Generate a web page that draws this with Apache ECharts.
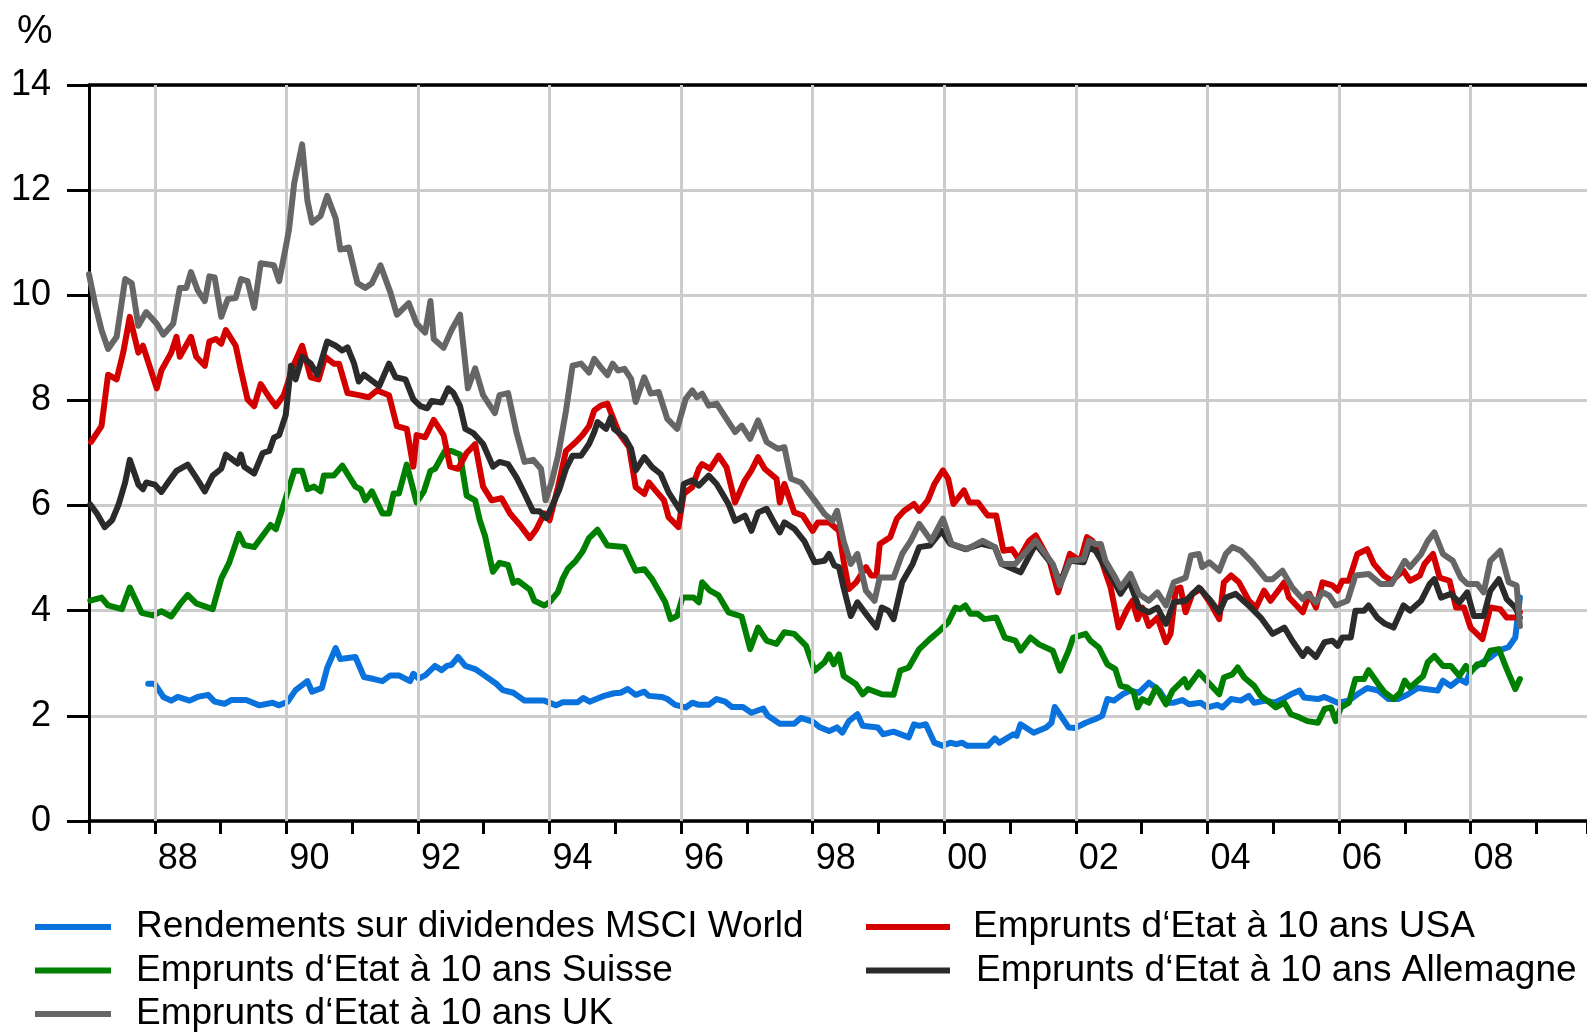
<!DOCTYPE html>
<html>
<head>
<meta charset="utf-8">
<script src="https://cdn.jsdelivr.net/npm/echarts@6/dist/echarts.min.js"></script>
<style>
html,body{margin:0;padding:0;background:#fff;}
#chart{width:1587px;height:1032px;}
</style>
</head>
<body>
<div id="chart"></div>
<script>
// ---- data (decimal year, percent) ----
const xLabelYears = [1988, 1990, 1992, 1994, 1996, 1998, 2000, 2002, 2004, 2006, 2008];
const yTicks = [0, 2, 4, 6, 8, 10, 12, 14];
const seriesNames = [
  'Rendements sur dividendes MSCI World',
  'Emprunts d\u2018Etat à 10 ans USA',
  'Emprunts d\u2018Etat à 10 ans Suisse',
  'Emprunts d\u2018Etat à 10 ans Allemagne',
  'Emprunts d\u2018Etat à 10 ans UK'
];

const msciWorld = [[1987.90,2.61],[1988.00,2.61],[1988.13,2.36],[1988.25,2.29],[1988.35,2.36],[1988.53,2.29],[1988.65,2.36],[1988.81,2.40],[1988.91,2.27],[1989.06,2.23],[1989.16,2.30],[1989.39,2.30],[1989.59,2.20],[1989.79,2.25],[1989.89,2.20],[1990.02,2.27],[1990.14,2.49],[1990.32,2.66],[1990.39,2.46],[1990.54,2.53],[1990.62,2.91],[1990.75,3.29],[1990.82,3.08],[1991.05,3.12],[1991.18,2.74],[1991.33,2.70],[1991.46,2.66],[1991.58,2.77],[1991.71,2.77],[1991.88,2.66],[1991.93,2.80],[1992.01,2.71],[1992.11,2.77],[1992.26,2.95],[1992.36,2.87],[1992.44,2.95],[1992.51,2.97],[1992.61,3.12],[1992.72,2.95],[1992.87,2.89],[1993.02,2.76],[1993.19,2.61],[1993.29,2.49],[1993.45,2.44],[1993.62,2.29],[1993.92,2.29],[1994.10,2.20],[1994.20,2.26],[1994.43,2.26],[1994.51,2.34],[1994.61,2.27],[1994.71,2.32],[1994.83,2.38],[1994.98,2.43],[1995.08,2.44],[1995.19,2.51],[1995.31,2.40],[1995.44,2.46],[1995.51,2.38],[1995.71,2.36],[1995.79,2.32],[1995.91,2.21],[1996.07,2.16],[1996.17,2.25],[1996.27,2.21],[1996.42,2.21],[1996.54,2.32],[1996.67,2.27],[1996.77,2.17],[1996.94,2.17],[1997.07,2.06],[1997.25,2.14],[1997.32,2.00],[1997.50,1.85],[1997.72,1.85],[1997.82,1.96],[1998.00,1.89],[1998.10,1.79],[1998.25,1.71],[1998.37,1.78],[1998.45,1.68],[1998.55,1.90],[1998.68,2.03],[1998.76,1.81],[1998.99,1.78],[1999.07,1.65],[1999.23,1.70],[1999.46,1.59],[1999.54,1.84],[1999.62,1.81],[1999.72,1.84],[1999.85,1.49],[1999.98,1.43],[2000.09,1.49],[2000.19,1.46],[2000.27,1.49],[2000.35,1.43],[2000.66,1.43],[2000.77,1.57],[2000.84,1.49],[2001.05,1.65],[2001.10,1.62],[2001.16,1.84],[2001.36,1.68],[2001.55,1.78],[2001.63,1.87],[2001.68,2.17],[2001.89,1.78],[2001.99,1.77],[2002.15,1.87],[2002.30,1.94],[2002.40,2.00],[2002.48,2.32],[2002.58,2.29],[2002.71,2.41],[2002.83,2.48],[2002.96,2.44],[2003.11,2.63],[2003.27,2.48],[2003.39,2.25],[2003.49,2.25],[2003.62,2.30],[2003.72,2.22],[2003.90,2.25],[2004.00,2.16],[2004.15,2.21],[2004.23,2.16],[2004.36,2.32],[2004.51,2.29],[2004.63,2.38],[2004.71,2.25],[2004.89,2.29],[2005.02,2.25],[2005.14,2.32],[2005.27,2.41],[2005.40,2.48],[2005.47,2.35],[2005.68,2.32],[2005.78,2.36],[2005.98,2.25],[2006.15,2.29],[2006.28,2.41],[2006.43,2.53],[2006.60,2.48],[2006.75,2.32],[2006.90,2.32],[2007.05,2.41],[2007.20,2.53],[2007.50,2.48],[2007.58,2.67],[2007.70,2.57],[2007.83,2.70],[2007.93,2.63],[2008.00,2.86],[2008.18,3.02],[2008.30,3.11],[2008.43,3.24],[2008.58,3.31],[2008.68,3.49],[2008.71,3.81],[2008.75,4.25]];

const bondsUSA = [[1987.03,7.21],[1987.19,7.51],[1987.29,8.49],[1987.42,8.40],[1987.52,8.91],[1987.62,9.59],[1987.75,8.91],[1987.82,9.04],[1988.03,8.23],[1988.10,8.57],[1988.25,8.91],[1988.33,9.21],[1988.38,8.83],[1988.55,9.21],[1988.63,8.83],[1988.76,8.66],[1988.83,9.12],[1988.93,9.17],[1989.01,9.08],[1989.08,9.34],[1989.23,9.04],[1989.31,8.57],[1989.41,8.02],[1989.51,7.89],[1989.61,8.31],[1989.74,8.06],[1989.84,7.89],[1989.96,8.10],[1990.12,8.70],[1990.24,9.04],[1990.37,8.44],[1990.49,8.40],[1990.59,8.83],[1990.72,8.70],[1990.80,8.70],[1990.93,8.14],[1991.10,8.10],[1991.25,8.06],[1991.38,8.19],[1991.56,8.10],[1991.68,7.51],[1991.83,7.46],[1991.93,6.74],[1991.98,7.34],[1992.11,7.30],[1992.24,7.63],[1992.39,7.34],[1992.49,6.74],[1992.61,6.70],[1992.74,7.00],[1992.87,7.17],[1992.99,6.36],[1993.12,6.10],[1993.27,6.14],[1993.40,5.85],[1993.55,5.63],[1993.70,5.38],[1993.80,5.55],[1993.92,5.85],[1994.00,5.72],[1994.13,6.36],[1994.25,7.04],[1994.40,7.21],[1994.50,7.34],[1994.60,7.51],[1994.68,7.81],[1994.78,7.90],[1994.88,7.94],[1995.06,7.37],[1995.21,7.11],[1995.31,6.35],[1995.44,6.22],[1995.51,6.44],[1995.61,6.29],[1995.74,6.10],[1995.81,5.78],[1995.96,5.59],[1996.04,6.22],[1996.17,6.35],[1996.27,6.70],[1996.32,6.79],[1996.44,6.70],[1996.57,6.95],[1996.69,6.73],[1996.82,6.06],[1996.97,6.48],[1997.07,6.67],[1997.17,6.92],[1997.27,6.70],[1997.45,6.51],[1997.50,6.06],[1997.57,6.41],[1997.72,5.87],[1997.85,5.81],[1998.00,5.52],[1998.08,5.68],[1998.25,5.68],[1998.40,5.52],[1998.47,4.95],[1998.55,4.41],[1998.66,4.54],[1998.81,4.83],[1998.89,4.67],[1998.97,4.67],[1999.02,5.27],[1999.18,5.40],[1999.28,5.75],[1999.39,5.90],[1999.54,6.03],[1999.62,5.90],[1999.75,6.10],[1999.85,6.41],[1999.98,6.67],[2000.06,6.51],[2000.14,6.03],[2000.30,6.29],[2000.38,6.06],[2000.51,6.06],[2000.66,5.81],[2000.79,5.81],[2000.90,5.14],[2001.03,5.17],[2001.13,4.98],[2001.29,5.33],[2001.39,5.43],[2001.60,4.95],[2001.73,4.35],[2001.83,4.76],[2001.91,5.08],[2002.07,4.95],[2002.17,5.40],[2002.25,5.33],[2002.35,5.11],[2002.45,4.73],[2002.53,4.44],[2002.65,3.68],[2002.78,4.03],[2002.86,4.19],[2002.94,3.84],[2003.01,4.06],[2003.11,3.71],[2003.24,3.87],[2003.37,3.40],[2003.44,3.56],[2003.52,4.41],[2003.59,4.44],[2003.67,3.97],[2003.77,4.32],[2003.90,4.41],[2004.05,4.13],[2004.18,3.84],[2004.25,4.54],[2004.36,4.67],[2004.48,4.54],[2004.63,4.19],[2004.74,4.06],[2004.86,4.38],[2004.96,4.19],[2005.17,4.54],[2005.24,4.25],[2005.45,3.97],[2005.55,4.32],[2005.65,4.06],[2005.75,4.54],[2005.90,4.48],[2005.98,4.38],[2006.05,4.57],[2006.15,4.57],[2006.28,5.08],[2006.43,5.17],[2006.53,4.89],[2006.68,4.67],[2006.80,4.57],[2006.98,4.76],[2007.08,4.57],[2007.23,4.67],[2007.30,4.89],[2007.43,5.08],[2007.53,4.63],[2007.68,4.57],[2007.78,4.06],[2007.90,4.06],[2008.00,3.68],[2008.18,3.46],[2008.30,4.06],[2008.45,4.03],[2008.55,3.87],[2008.70,3.87],[2008.75,3.97]];

const bondsSuisse = [[1987.02,4.19],[1987.19,4.25],[1987.29,4.10],[1987.50,4.03],[1987.62,4.44],[1987.80,3.96],[1987.97,3.91],[1988.10,3.99],[1988.25,3.89],[1988.38,4.12],[1988.50,4.30],[1988.63,4.14],[1988.88,4.03],[1989.01,4.61],[1989.13,4.91],[1989.28,5.46],[1989.36,5.25],[1989.51,5.21],[1989.76,5.63],[1989.84,5.55],[1989.99,6.14],[1990.12,6.66],[1990.24,6.66],[1990.32,6.31],[1990.42,6.36],[1990.52,6.27],[1990.57,6.57],[1990.72,6.57],[1990.85,6.76],[1991.05,6.36],[1991.13,6.31],[1991.20,6.10],[1991.30,6.27],[1991.46,5.85],[1991.56,5.85],[1991.63,6.23],[1991.71,6.23],[1991.83,6.78],[1991.98,6.06],[1992.09,6.27],[1992.19,6.66],[1992.26,6.70],[1992.41,7.04],[1992.51,7.04],[1992.64,6.97],[1992.74,6.19],[1992.87,6.10],[1992.94,5.72],[1993.02,5.42],[1993.14,4.74],[1993.24,4.91],[1993.37,4.87],[1993.45,4.53],[1993.52,4.57],[1993.70,4.40],[1993.77,4.19],[1993.92,4.10],[1994.00,4.16],[1994.13,4.36],[1994.20,4.61],[1994.28,4.80],[1994.40,4.95],[1994.50,5.12],[1994.60,5.38],[1994.73,5.54],[1994.88,5.24],[1995.14,5.21],[1995.31,4.76],[1995.44,4.79],[1995.56,4.60],[1995.76,4.16],[1995.84,3.84],[1995.94,3.90],[1996.02,4.25],[1996.19,4.25],[1996.27,4.16],[1996.32,4.54],[1996.44,4.38],[1996.57,4.29],[1996.72,3.97],[1996.92,3.89],[1997.05,3.27],[1997.17,3.68],[1997.30,3.43],[1997.45,3.37],[1997.57,3.59],[1997.72,3.56],[1997.90,3.33],[1998.03,2.86],[1998.18,3.02],[1998.25,3.17],[1998.32,2.98],[1998.40,3.17],[1998.47,2.76],[1998.66,2.60],[1998.76,2.41],[1998.84,2.51],[1999.05,2.41],[1999.23,2.40],[1999.33,2.86],[1999.46,2.92],[1999.62,3.27],[1999.78,3.46],[1999.93,3.62],[2000.06,3.78],[2000.17,4.06],[2000.24,4.03],[2000.32,4.10],[2000.40,3.94],[2000.51,3.94],[2000.61,3.84],[2000.79,3.87],[2000.92,3.49],[2001.08,3.43],[2001.16,3.24],[2001.31,3.49],[2001.44,3.36],[2001.65,3.24],[2001.76,2.86],[2001.89,3.24],[2001.96,3.49],[2002.15,3.56],[2002.22,3.43],[2002.35,3.30],[2002.48,2.98],[2002.60,2.89],[2002.68,2.57],[2002.78,2.54],[2002.88,2.44],[2002.94,2.16],[2003.01,2.32],[2003.11,2.25],[2003.22,2.54],[2003.37,2.22],[2003.47,2.48],[2003.65,2.70],[2003.70,2.54],[2003.87,2.83],[2004.18,2.41],[2004.25,2.73],[2004.38,2.79],[2004.46,2.92],[2004.56,2.73],[2004.71,2.57],[2004.81,2.38],[2004.91,2.29],[2005.04,2.16],[2005.17,2.25],[2005.27,2.03],[2005.40,1.97],[2005.52,1.90],[2005.68,1.87],[2005.78,2.13],[2005.88,2.16],[2005.95,1.90],[2006.03,2.16],[2006.15,2.25],[2006.25,2.70],[2006.38,2.70],[2006.45,2.87],[2006.60,2.60],[2006.70,2.44],[2006.83,2.32],[2006.93,2.44],[2007.00,2.67],[2007.08,2.54],[2007.28,2.76],[2007.35,3.02],[2007.45,3.14],[2007.58,2.95],[2007.70,2.95],[2007.83,2.76],[2007.93,2.95],[2008.00,2.83],[2008.10,2.98],[2008.20,2.98],[2008.30,3.24],[2008.43,3.27],[2008.55,2.89],[2008.68,2.51],[2008.75,2.70]];

const bondsAllemagne = [[1987.02,6.02],[1987.12,5.85],[1987.24,5.59],[1987.35,5.72],[1987.45,6.02],[1987.55,6.44],[1987.62,6.87],[1987.75,6.40],[1987.82,6.31],[1987.87,6.44],[1988.00,6.40],[1988.10,6.26],[1988.23,6.49],[1988.33,6.66],[1988.50,6.78],[1988.63,6.53],[1988.76,6.27],[1988.88,6.57],[1989.01,6.70],[1989.08,6.97],[1989.26,6.80],[1989.31,6.97],[1989.36,6.74],[1989.51,6.61],[1989.64,7.00],[1989.74,7.04],[1989.81,7.29],[1989.89,7.34],[1989.99,7.72],[1990.07,8.66],[1990.14,8.40],[1990.24,8.83],[1990.37,8.70],[1990.47,8.49],[1990.62,9.12],[1990.75,9.04],[1990.85,8.95],[1990.93,9.01],[1991.03,8.70],[1991.10,8.36],[1991.18,8.49],[1991.41,8.27],[1991.56,8.70],[1991.66,8.44],[1991.81,8.40],[1991.93,8.02],[1992.04,7.89],[1992.14,7.85],[1992.21,7.99],[1992.36,7.96],[1992.46,8.23],[1992.54,8.14],[1992.64,7.89],[1992.72,7.46],[1992.84,7.38],[1992.99,7.17],[1993.14,6.74],[1993.24,6.83],[1993.37,6.79],[1993.50,6.53],[1993.62,6.23],[1993.75,5.89],[1993.85,5.89],[1993.95,5.76],[1994.05,6.02],[1994.15,6.31],[1994.25,6.70],[1994.35,6.95],[1994.48,6.95],[1994.60,7.17],[1994.68,7.40],[1994.73,7.59],[1994.86,7.46],[1994.93,7.68],[1994.98,7.46],[1995.14,7.30],[1995.24,7.08],[1995.31,6.67],[1995.44,6.92],[1995.56,6.73],[1995.69,6.60],[1995.81,6.25],[1995.99,5.90],[1996.04,6.41],[1996.17,6.48],[1996.27,6.38],[1996.42,6.57],[1996.54,6.41],[1996.72,6.03],[1996.82,5.71],[1996.97,5.81],[1997.07,5.52],[1997.17,5.87],[1997.30,5.94],[1997.40,5.71],[1997.50,5.49],[1997.57,5.68],[1997.72,5.56],[1997.87,5.33],[1998.03,4.92],[1998.18,4.95],[1998.25,5.08],[1998.33,4.86],[1998.40,4.83],[1998.47,4.44],[1998.58,3.90],[1998.68,4.16],[1998.81,3.94],[1998.97,3.68],[1999.05,4.06],[1999.15,4.00],[1999.23,3.84],[1999.36,4.54],[1999.52,4.89],[1999.62,5.21],[1999.78,5.24],[1999.96,5.52],[2000.09,5.27],[2000.32,5.17],[2000.56,5.27],[2000.77,5.21],[2000.87,4.89],[2001.16,4.73],[2001.39,5.27],[2001.65,4.86],[2001.76,4.54],[2001.91,4.95],[2002.12,4.92],[2002.20,5.21],[2002.30,5.14],[2002.43,4.86],[2002.55,4.63],[2002.68,4.32],[2002.81,4.57],[2002.96,4.06],[2003.11,3.97],[2003.24,4.06],[2003.37,3.75],[2003.49,4.16],[2003.67,4.19],[2003.87,4.44],[2004.03,4.22],[2004.18,3.97],[2004.28,4.25],[2004.43,4.32],[2004.66,4.06],[2004.81,3.87],[2004.99,3.56],[2005.17,3.68],[2005.29,3.43],[2005.45,3.14],[2005.52,3.27],[2005.65,3.12],[2005.78,3.40],[2005.90,3.43],[2005.98,3.33],[2006.05,3.49],[2006.18,3.49],[2006.25,4.00],[2006.38,4.00],[2006.45,4.10],[2006.58,3.87],[2006.70,3.75],[2006.83,3.68],[2006.98,4.10],[2007.08,4.00],[2007.25,4.19],[2007.38,4.51],[2007.45,4.60],[2007.55,4.25],[2007.70,4.32],[2007.83,4.16],[2007.95,4.35],[2008.05,3.90],[2008.20,3.90],[2008.30,4.38],[2008.43,4.60],[2008.55,4.22],[2008.68,4.06],[2008.75,3.87]];

const bondsUK = [[1987.00,10.40],[1987.09,9.85],[1987.19,9.34],[1987.29,8.98],[1987.42,9.21],[1987.55,10.31],[1987.65,10.23],[1987.75,9.42],[1987.87,9.68],[1988.03,9.46],[1988.13,9.25],[1988.28,9.46],[1988.38,10.14],[1988.48,10.14],[1988.55,10.44],[1988.65,10.10],[1988.76,9.89],[1988.83,10.36],[1988.91,10.34],[1989.01,9.59],[1989.11,9.93],[1989.23,9.95],[1989.31,10.31],[1989.41,10.27],[1989.51,9.76],[1989.61,10.61],[1989.81,10.57],[1989.89,10.27],[1989.99,10.91],[1990.04,11.25],[1990.12,12.14],[1990.24,12.87],[1990.32,11.80],[1990.39,11.38],[1990.52,11.51],[1990.62,11.89],[1990.75,11.46],[1990.82,10.87],[1990.95,10.91],[1991.08,10.23],[1991.20,10.14],[1991.30,10.23],[1991.43,10.57],[1991.58,10.06],[1991.68,9.63],[1991.86,9.85],[1991.98,9.46],[1992.11,9.29],[1992.19,9.89],[1992.24,9.17],[1992.39,9.00],[1992.51,9.34],[1992.64,9.63],[1992.76,8.23],[1992.87,8.61],[1992.99,8.10],[1993.17,7.76],[1993.24,8.10],[1993.37,8.14],[1993.50,7.38],[1993.62,6.83],[1993.75,6.87],[1993.87,6.70],[1993.94,6.10],[1994.03,6.44],[1994.13,6.95],[1994.25,7.80],[1994.35,8.66],[1994.48,8.70],[1994.60,8.53],[1994.68,8.79],[1994.78,8.63],[1994.88,8.48],[1994.96,8.70],[1995.04,8.57],[1995.14,8.60],[1995.24,8.41],[1995.31,7.97],[1995.44,8.44],[1995.54,8.13],[1995.66,8.16],[1995.79,7.65],[1995.94,7.46],[1996.07,8.03],[1996.17,8.19],[1996.24,8.06],[1996.32,8.13],[1996.42,7.90],[1996.54,7.94],[1996.69,7.65],[1996.82,7.40],[1996.92,7.52],[1997.05,7.27],[1997.17,7.62],[1997.30,7.21],[1997.47,7.08],[1997.57,7.11],[1997.67,6.51],[1997.82,6.44],[1998.03,6.10],[1998.18,5.84],[1998.30,5.71],[1998.37,5.90],[1998.47,5.33],[1998.58,4.89],[1998.68,5.08],[1998.81,4.38],[1998.94,4.19],[1999.02,4.63],[1999.23,4.63],[1999.36,5.08],[1999.49,5.33],[1999.62,5.65],[1999.80,5.33],[1999.98,5.75],[2000.11,5.27],[2000.35,5.17],[2000.58,5.33],[2000.77,5.21],[2000.87,4.89],[2001.08,4.89],[2001.39,5.33],[2001.65,4.89],[2001.76,4.48],[2001.91,4.95],[2002.12,4.98],[2002.20,5.33],[2002.30,5.27],[2002.38,5.27],[2002.45,4.95],[2002.60,4.63],[2002.68,4.44],[2002.83,4.70],[2002.96,4.32],[2003.11,4.19],[2003.24,4.35],[2003.37,4.10],[2003.49,4.54],[2003.67,4.63],[2003.75,5.05],[2003.87,5.08],[2003.92,4.83],[2004.03,4.92],[2004.18,4.76],[2004.28,5.08],[2004.38,5.21],[2004.51,5.14],[2004.66,4.95],[2004.89,4.60],[2004.99,4.60],[2005.14,4.76],[2005.29,4.44],[2005.45,4.22],[2005.52,4.32],[2005.65,4.16],[2005.75,4.35],[2005.85,4.29],[2005.95,4.10],[2006.13,4.19],[2006.25,4.67],[2006.45,4.70],[2006.63,4.51],[2006.80,4.51],[2007.00,4.95],[2007.08,4.83],[2007.25,5.08],[2007.35,5.33],[2007.45,5.49],[2007.58,5.08],[2007.73,4.95],[2007.85,4.63],[2007.95,4.51],[2008.10,4.51],[2008.20,4.35],[2008.30,4.95],[2008.45,5.14],[2008.58,4.54],[2008.70,4.48],[2008.75,3.71]];

// ---- chart ----
const FONT = "'Liberation Sans', Arial, Helvetica, sans-serif";
const X_MIN = 1987, X_MAX = 2009.77;
const colors = {
  msci: '#0a72dc', usa: '#d40000', suisse: '#008000', allemagne: '#2b2b2b', uk: '#666666'
};

function lineSeries(name, data, color, z) {
  return {
    name: name, type: 'line', data: data, showSymbol: false, symbol: 'none',
    color: color, z: z, silent: true, animation: false,
    lineStyle: { color: color, width: 6, join: 'round', cap: 'round' }
  };
}

function legendAt(name, left, top, itemWidth, padLeft) {
  return {
    data: [name], left: left, top: top, orient: 'horizontal', padding: 0,
    icon: 'rect', itemWidth: itemWidth, itemHeight: 6, selectedMode: false,
    textStyle: { fontFamily: FONT, fontSize: 37, color: '#000', lineHeight: 40, padding: [0, 0, 0, padLeft] }
  };
}

const chart = echarts.init(document.getElementById('chart'), null, { renderer: 'canvas' });
chart.setOption({
  backgroundColor: '#ffffff',
  animation: false,
  textStyle: { fontFamily: FONT },
  title: {
    text: '%', left: 17, top: 12, padding: 0,
    textStyle: { fontFamily: FONT, fontSize: 40, fontWeight: 'normal', color: '#000' }
  },
  grid: { left: 89, right: 0, top: 85, bottom: 211, containLabel: false, outerBoundsMode: 'none' },
  xAxis: [{
    type: 'value', position: 'bottom', min: X_MIN, max: X_MAX, interval: 1,
    axisLine: { show: true, onZero: false, lineStyle: { color: '#000', width: 3.5 } },
    axisTick: { show: true, length: 13, lineStyle: { color: '#000', width: 3 } },
    splitLine: { show: false },
    axisLabel: {
      show: true, fontFamily: FONT, fontSize: 36, color: '#000', margin: 20,
      align: 'left', padding: [0, 0, 0, 3], showMinLabel: true, showMaxLabel: true,
      formatter: function (v) {
        const y = Math.round(v);
        if (Math.abs(v - y) > 1e-6 || xLabelYears.indexOf(y) < 0) return '';
        return String(y % 100).padStart(2, '0');
      }
    }
  }, {
    type: 'value', position: 'top', min: X_MIN, max: X_MAX,
    axisLine: { show: true, onZero: false, lineStyle: { color: '#000', width: 3.5 } },
    axisTick: { show: false }, axisLabel: { show: false }, splitLine: { show: false }
  }],
  yAxis: {
    type: 'value', min: yTicks[0], max: yTicks[yTicks.length - 1], interval: 2,
    axisLine: { show: true, onZero: false, lineStyle: { color: '#000', width: 3 } },
    axisTick: { show: true, length: 22, lineStyle: { color: '#000', width: 3 } },
    axisLabel: { fontFamily: FONT, fontSize: 36, color: '#000', margin: 38 },
    splitLine: { show: true, lineStyle: { color: '#cccccc', width: 3 } }
  },
  legend: [
    legendAt(seriesNames[0], 35, 907, 76, 20),
    legendAt(seriesNames[2], 35, 950.5, 76, 20),
    legendAt(seriesNames[4], 35, 994, 76, 20),
    legendAt(seriesNames[1], 866, 907, 84, 18),
    legendAt(seriesNames[3], 866, 950.5, 84, 21)
  ],
  series: [
    {
      name: 'grid-x', type: 'line', data: [], z: 1, silent: true,
      markLine: {
        silent: true, symbol: ['none', 'none'], animation: false,
        label: { show: false },
        lineStyle: { color: '#cccccc', width: 3, type: 'solid' },
        emphasis: { disabled: true },
        data: xLabelYears.map(function (y) { return { xAxis: y }; })
      }
    },
    lineSeries(seriesNames[0], msciWorld, colors.msci, 3),
    lineSeries(seriesNames[2], bondsSuisse, colors.suisse, 4),
    lineSeries(seriesNames[1], bondsUSA, colors.usa, 5),
    lineSeries(seriesNames[3], bondsAllemagne, colors.allemagne, 6),
    lineSeries(seriesNames[4], bondsUK, colors.uk, 7)
  ]
});
</script>
</body>
</html>
